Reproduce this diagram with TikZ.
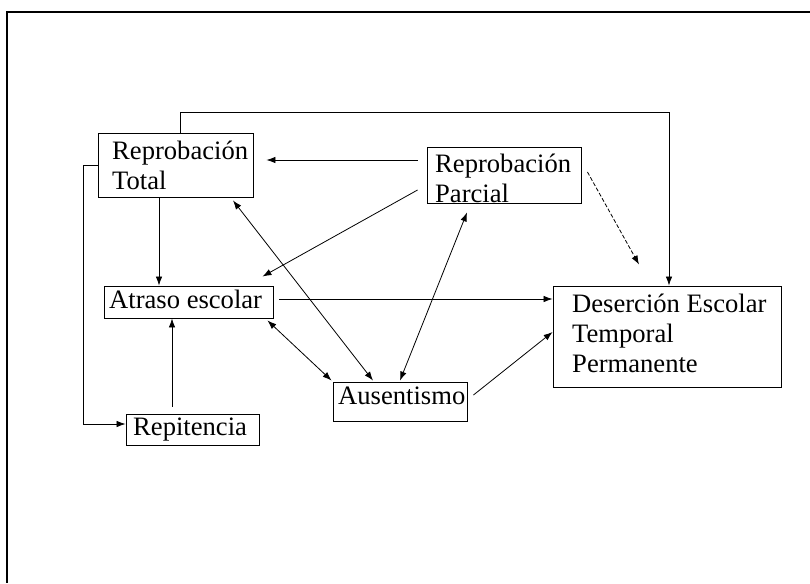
\documentclass[tikz,border=0pt]{standalone}
\usepackage{fontspec}
\setmainfont{Liberation Serif}
\usetikzlibrary{arrows.meta}
\begin{document}
\begin{tikzpicture}[x=1pt,y=-1pt,
  box/.style={draw,line width=0.9pt,inner sep=0pt,minimum width=#1},
  txt/.style={anchor=base west,inner sep=0pt,font=\fontsize{26.6}{30}\selectfont},
  con/.style={line width=0.8pt},
  arr/.style={con,-{Latex[length=9pt,width=6.5pt]}},
  darr/.style={con,{Latex[length=9pt,width=6.5pt]}-{Latex[length=9pt,width=6.5pt]}},
  frame/.style={line width=2pt}]
\useasboundingbox (0,0) rectangle (810,583);
% outer frame
\draw[frame] (810,12) -- (7,12) -- (7,583);
% boxes
\node[box=155pt,minimum height=64pt] (rt) at (175.5,165) {};
\node[box=154pt,minimum height=56pt] (rp) at (504,175) {};
\node[box=169pt,minimum height=32pt] (at) at (188.5,302) {};
\node[box=133pt,minimum height=31pt] (re) at (192.5,429.5) {};
\node[box=134pt,minimum height=39pt] (au) at (400,401.5) {};
\node[box=228pt,minimum height=101pt] (de) at (667,336.5) {};
% texts
\node[txt] (rt1) at (112,159) {Reprobación};
\node[txt] (rt2) at (112,189) {Total};
\node[txt] (rp1) at (435,172) {Reprobación};
\node[txt] (rp2) at (435,202) {Parcial};
\node[txt] (at1) at (109,308) {Atraso escolar};
\node[txt] (re1) at (133,435) {Repitencia};
\node[txt] (au1) at (338,404) {Ausentismo};
\node[txt] (de1) at (572,312) {Deserción Escolar};
\node[txt] (de2) at (572,342) {Temporal};
\node[txt] (de3) at (572,372) {Permanente};
% connectors
\coordinate (topy) at (0,112);
\draw[arr] ([xshift=4.5pt]rt.north) |- ([xshift=2pt]de.north |- topy) -- ([xshift=2pt]de.north);
\draw[arr] ([xshift=-9pt,yshift=15pt]rp.west) -- ([xshift=13pt,yshift=5pt]rt.east);
\draw[arr] ([xshift=-9pt,yshift=-15pt]rp.west) -- ([xshift=-11pt,yshift=9pt]at.north east);
\draw[arr] ([xshift=-16.5pt]rt.south) -- ([xshift=-16.5pt]rt.south |- at.north);
\draw[darr] ([xshift=57.5pt,yshift=-3pt]rt.south) -- ([xshift=-27pt,yshift=1pt]au.north);
\draw[darr] ([xshift=-37pt,yshift=-9pt]rp.south) -- ([yshift=1pt]au.north);
\draw[arr,dashed,dash pattern=on 4pt off 2pt] ([xshift=6pt,yshift=3pt]rp.east) -- ([xshift=-28pt,yshift=21pt]de.north);
\draw[arr] ([xshift=6pt,yshift=3pt]at.east) coordinate (a1) -- (a1 -| de.west);
\draw[darr] ([xshift=-6pt,yshift=-2pt]at.south east) -- ([xshift=-1pt,yshift=1pt]au.north west);
\draw[arr] ([xshift=6pt,yshift=6.5pt]au.east) -- ([yshift=4.5pt]de.west);
\draw[arr] (rt.west) -- ++(-14,0) |- ([yshift=5.5pt]re.west);
\draw[arr] ([xshift=-20.5pt,yshift=7pt]re.north) coordinate (r1) -- (r1 |- at.south);
\end{tikzpicture}
\end{document}
